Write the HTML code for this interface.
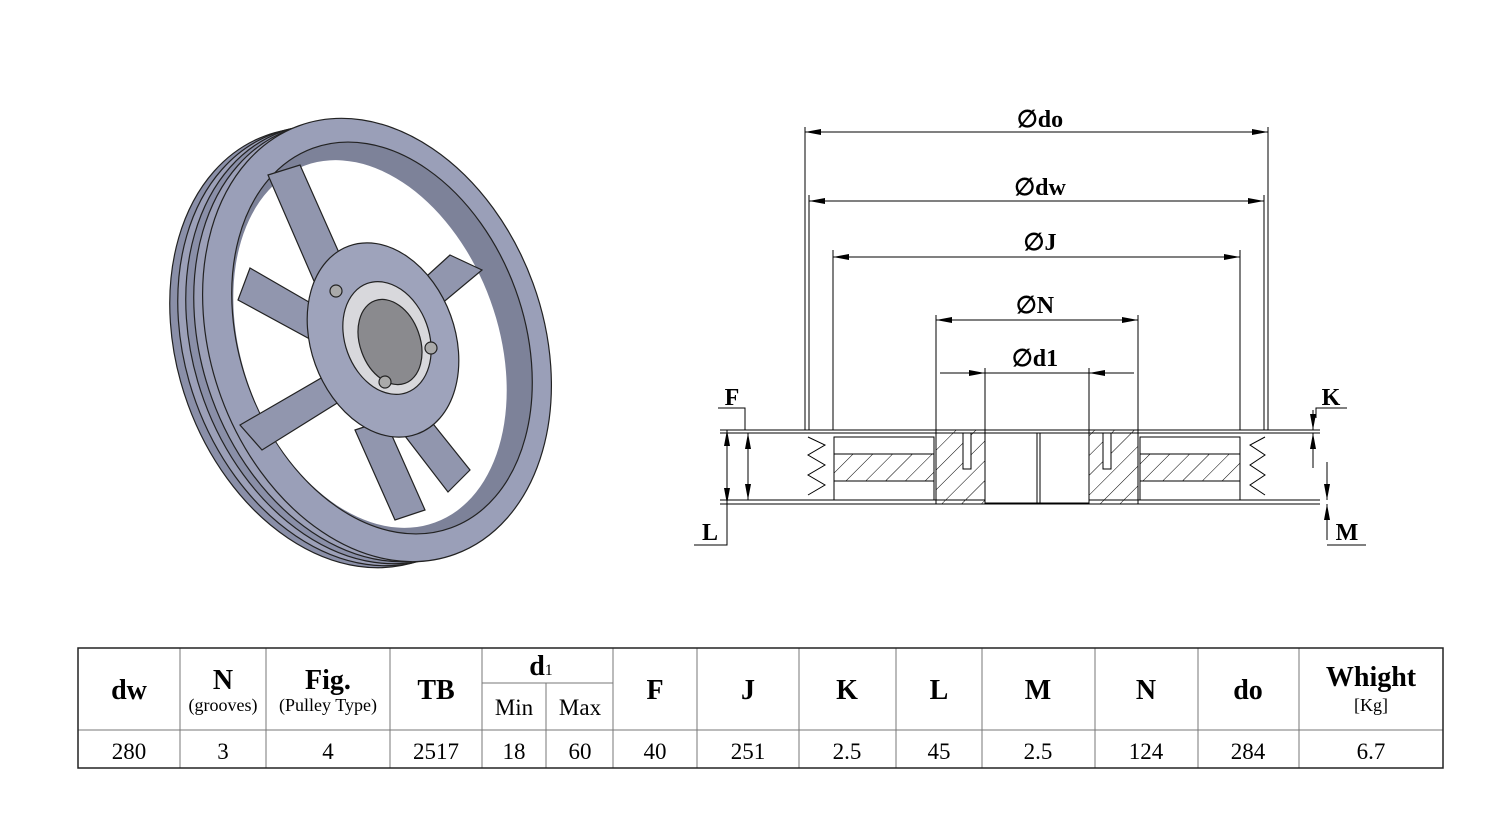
<!DOCTYPE html>
<html><head><meta charset="utf-8"><style>
html,body{margin:0;padding:0;background:#fff;width:1500px;height:822px;overflow:hidden}
svg{position:absolute;left:0;top:0}
text{font-family:"Liberation Serif",serif}
</style></head><body>
<svg width="1500" height="822" viewBox="0 0 1500 822">
<defs>
<marker id="a" viewBox="0 0 16 8" refX="16" refY="4" markerWidth="16" markerHeight="8" markerUnits="userSpaceOnUse" orient="auto-start-reverse"><path d="M0,1 L16,4 L0,7 z" fill="#000"/></marker>
<pattern id="h" width="14" height="14" patternUnits="userSpaceOnUse" patternTransform="rotate(45)"><line x1="0" y1="0" x2="0" y2="14" stroke="#000" stroke-width="1"/></pattern>
</defs>
<!-- pulley 3D -->
<g stroke="#222" stroke-width="1.2">
<ellipse cx="343" cy="348" rx="165" ry="226" transform="rotate(-20 343 348)" fill="#8a8fa8"/>
<ellipse cx="351" cy="346" rx="165" ry="226" transform="rotate(-20 351 346)" fill="#9ca0b8"/>
<ellipse cx="359" cy="344" rx="165" ry="226" transform="rotate(-20 359 344)" fill="#8a8fa8"/>
<ellipse cx="367" cy="342" rx="165" ry="226" transform="rotate(-20 367 342)" fill="#9ca0b8"/>
<ellipse cx="377" cy="340" rx="166" ry="228" transform="rotate(-20 377 340)" fill="#9a9fb8"/>
<ellipse cx="382" cy="338" rx="142" ry="202" transform="rotate(-20 382 338)" fill="#7d8299"/>
<ellipse cx="370" cy="344" rx="128" ry="190" transform="rotate(-20 370 344)" fill="#fff" stroke="none"/>
<path d="M268,175 L300,165 L360,300 L330,318z" fill="#9196ae"/>
<path d="M450,255 L482,270 L410,330 L395,305z" fill="#9196ae"/>
<path d="M238,300 L250,268 L340,320 L330,350z" fill="#9196ae"/>
<path d="M262,450 L240,425 L335,370 L350,395z" fill="#9196ae"/>
<path d="M470,470 L448,492 L385,410 L410,395z" fill="#9196ae"/>
<path d="M355,430 L385,420 L425,510 L395,520z" fill="#9196ae"/>
<ellipse cx="383" cy="340" rx="72" ry="100" transform="rotate(-20 383 340)" fill="#9ea3bb"/>
<ellipse cx="387" cy="338" rx="42" ry="58" transform="rotate(-20 387 338)" fill="#d8d8dc"/>
<ellipse cx="390" cy="342" rx="30" ry="44" transform="rotate(-20 390 342)" fill="#8a8a8e"/>
<circle cx="336" cy="291" r="6" fill="#aaa"/><circle cx="431" cy="348" r="6" fill="#aaa"/><circle cx="385" cy="382" r="6" fill="#aaa"/>
</g>
<!-- dimension lines -->
<g stroke="#000" stroke-width="1" fill="none">
<line x1="805" y1="127" x2="805" y2="430"/><line x1="1268" y1="127" x2="1268" y2="430"/>
<line x1="809" y1="195" x2="809" y2="430"/><line x1="1264" y1="195" x2="1264" y2="430"/>
<line x1="833" y1="250" x2="833" y2="430"/><line x1="1240" y1="250" x2="1240" y2="430"/>
<line x1="936" y1="315" x2="936" y2="430"/><line x1="1138" y1="315" x2="1138" y2="430"/>
<line x1="985" y1="368" x2="985" y2="430"/><line x1="1089" y1="368" x2="1089" y2="430"/>
<line x1="805" y1="132" x2="1268" y2="132" marker-start="url(#a)" marker-end="url(#a)"/>
<line x1="809" y1="201" x2="1264" y2="201" marker-start="url(#a)" marker-end="url(#a)"/>
<line x1="833" y1="257" x2="1240" y2="257" marker-start="url(#a)" marker-end="url(#a)"/>
<line x1="936" y1="320" x2="1138" y2="320" marker-start="url(#a)" marker-end="url(#a)"/>
<line x1="940" y1="373" x2="985" y2="373" marker-end="url(#a)"/>
<line x1="1134" y1="373" x2="1089" y2="373" marker-end="url(#a)"/>
<line x1="985" y1="373" x2="1089" y2="373"/>
<!-- section -->
<line x1="720" y1="430" x2="1320" y2="430"/><line x1="720" y1="433" x2="1320" y2="433"/>
<line x1="720" y1="500" x2="1320" y2="500"/><line x1="720" y1="504" x2="1320" y2="504"/>
<rect x="834" y="437" width="100" height="17" fill="#fff"/>
<rect x="834" y="481" width="100" height="19" fill="#fff"/>
<rect x="1140" y="437" width="100" height="17" fill="#fff"/>
<rect x="1140" y="481" width="100" height="19" fill="#fff"/>
<rect x="834" y="454" width="100" height="27" fill="url(#h)"/>
<rect x="1140" y="454" width="100" height="27" fill="url(#h)"/>
<rect x="936" y="430" width="49" height="74" fill="url(#h)"/>
<rect x="1089" y="430" width="49" height="74" fill="url(#h)"/>
<rect x="985" y="433" width="104" height="70" fill="#fff"/>
<line x1="1037" y1="433" x2="1037" y2="503"/><line x1="1040" y1="433" x2="1040" y2="503"/>
<rect x="963" y="433" width="8" height="36" fill="#fff"/><rect x="1103" y="433" width="8" height="36" fill="#fff"/>
<polyline points="808,437 825,445 808,455 825,465 808,475 825,485 808,495"/>
<polyline points="1265,437 1250,445 1265,455 1250,465 1265,475 1250,485 1265,495"/>
<!-- F L K M -->
<polyline points="718,408 745,408 745,430"/>
<line x1="748" y1="433" x2="748" y2="500" marker-start="url(#a)" marker-end="url(#a)"/>
<line x1="727" y1="430" x2="727" y2="504" marker-start="url(#a)" marker-end="url(#a)"/>
<polyline points="694,545 727,545 727,504"/>
<polyline points="1347,408 1316,408 1316,418"/>
<line x1="1313" y1="410" x2="1313" y2="430" marker-end="url(#a)"/>
<line x1="1313" y1="468" x2="1313" y2="433" marker-end="url(#a)"/>
<line x1="1327" y1="462" x2="1327" y2="500" marker-end="url(#a)"/>
<line x1="1327" y1="540" x2="1327" y2="504" marker-end="url(#a)"/>
<polyline points="1327,545 1366,545"/>
</g>
<g font-weight="bold" font-size="24" text-anchor="middle">
<text x="1040" y="127">∅do</text><text x="1040" y="195">∅dw</text><text x="1040" y="250">∅J</text>
<text x="1035" y="313">∅N</text><text x="1035" y="366">∅d1</text>
<text x="732" y="405">F</text><text x="710" y="540">L</text><text x="1331" y="405">K</text><text x="1347" y="540">M</text>
</g>
<!-- table -->
<g stroke="#777" stroke-width="1">
<line x1="78" y1="730" x2="1443" y2="730"/>
<line x1="482" y1="683" x2="613" y2="683"/>
<line x1="180" y1="648" x2="180" y2="768"/><line x1="266" y1="648" x2="266" y2="768"/>
<line x1="390" y1="648" x2="390" y2="768"/><line x1="482" y1="648" x2="482" y2="768"/>
<line x1="546" y1="683" x2="546" y2="768"/><line x1="613" y1="648" x2="613" y2="768"/>
<line x1="697" y1="648" x2="697" y2="768"/><line x1="799" y1="648" x2="799" y2="768"/>
<line x1="896" y1="648" x2="896" y2="768"/><line x1="982" y1="648" x2="982" y2="768"/>
<line x1="1095" y1="648" x2="1095" y2="768"/><line x1="1198" y1="648" x2="1198" y2="768"/>
<line x1="1299" y1="648" x2="1299" y2="768"/>
</g>
<rect x="78" y="648" width="1365" height="120" fill="none" stroke="#222" stroke-width="1.5"/>
<g text-anchor="middle" font-size="28" font-weight="bold">
<text x="129" y="699">dw</text><text x="223" y="689">N</text><text x="328" y="689">Fig.</text>
<text x="436" y="699">TB</text><text x="541" y="675">d<tspan font-size="16" font-weight="normal">1</tspan></text>
<text x="655" y="699">F</text><text x="748" y="699">J</text><text x="847" y="699">K</text><text x="939" y="699">L</text>
<text x="1038" y="699">M</text><text x="1146" y="699">N</text><text x="1248" y="699">do</text><text x="1371" y="686">Whight</text>
</g>
<g text-anchor="middle" font-size="18">
<text x="223" y="711">(grooves)</text><text x="328" y="711">(Pulley Type)</text><text x="1371" y="711">[Kg]</text>
</g>
<g text-anchor="middle" font-size="23">
<text x="514" y="715">Min</text><text x="580" y="715">Max</text>
<text x="129" y="759">280</text><text x="223" y="759">3</text><text x="328" y="759">4</text><text x="436" y="759">2517</text>
<text x="514" y="759">18</text><text x="580" y="759">60</text><text x="655" y="759">40</text><text x="748" y="759">251</text>
<text x="847" y="759">2.5</text><text x="939" y="759">45</text><text x="1038" y="759">2.5</text><text x="1146" y="759">124</text>
<text x="1248" y="759">284</text><text x="1371" y="759">6.7</text>
</g>
</svg>
</body></html>
